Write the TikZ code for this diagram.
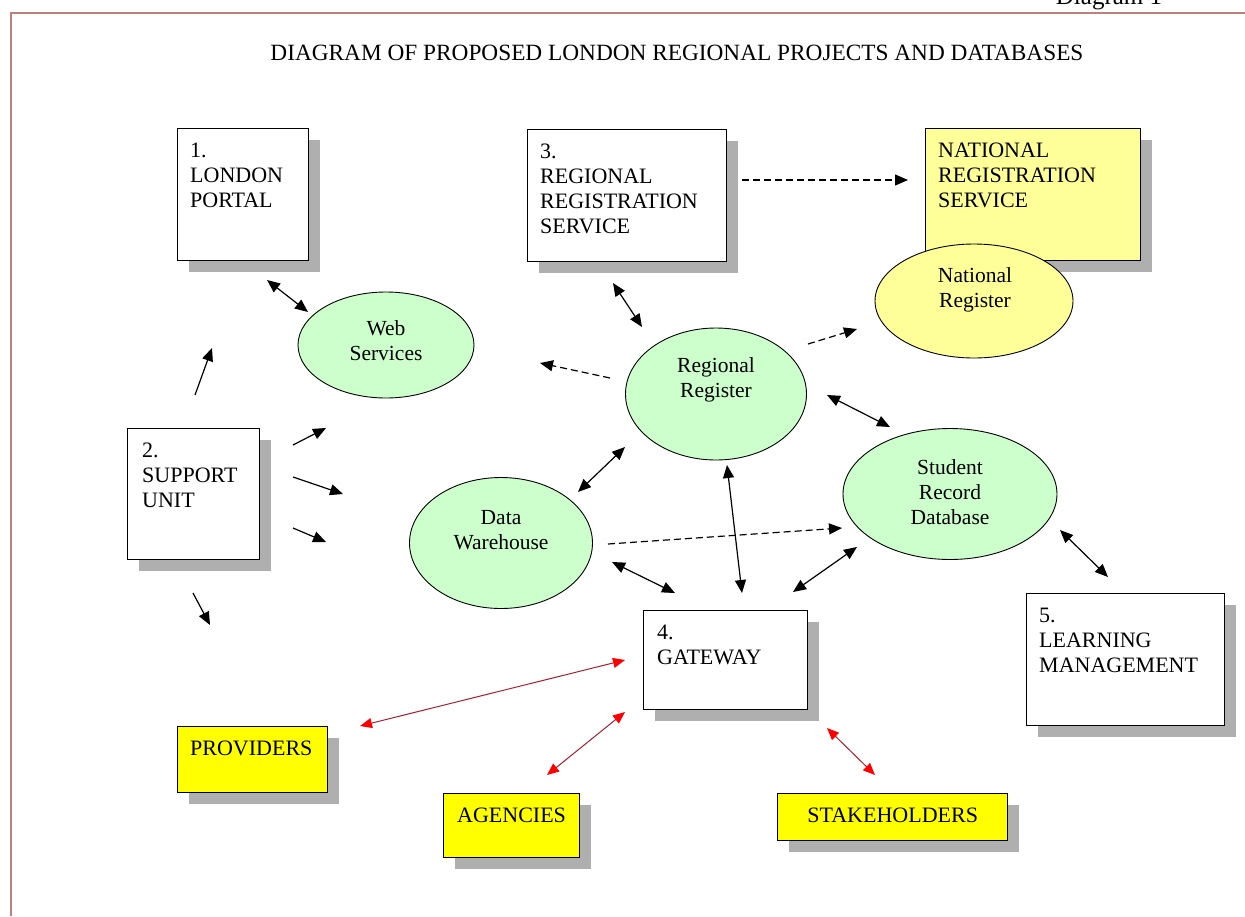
\documentclass[tikz,border=0pt]{standalone}
\usepackage{fontspec}
\setmainfont{Liberation Serif}
\usetikzlibrary{arrows.meta,shadows,shapes.geometric}
\definecolor{bordercol}{RGB}{192,128,128}
\definecolor{lgreen}{RGB}{204,255,204}
\definecolor{lyellow}{RGB}{255,255,153}
\definecolor{byellow}{RGB}{255,255,0}
\definecolor{shadowgray}{RGB}{175,175,175}
\definecolor{redline}{RGB}{170,30,50}
\begin{document}
\begin{tikzpicture}[x=1pt,y=-1pt,
  shad/.style={drop shadow={shadow xshift=11pt,shadow yshift=-11pt,fill=shadowgray,opacity=1}},
  boxnode/.style={draw=black,line width=1.4pt,fill=white,anchor=north west,inner sep=0pt,shad},
  ell/.style={ellipse,draw=black,line width=0.9pt,fill=lgreen,inner sep=0pt},
  btxt/.style={anchor=north west,align=left,inner sep=0pt,font=\fontsize{22}{25}\selectfont},
  etxt/.style={align=center,inner sep=0pt,font=\fontsize{21.5}{25}\selectfont},
  conn/.style={line width=1.2pt,black},
  biarr/.style={conn,{Triangle[length=13pt,width=11pt]}-{Triangle[length=13pt,width=11pt]}},
  onearr/.style={conn,-{Triangle[length=13pt,width=11pt]}},
  dasharr/.style={conn,dash pattern=on 7pt off 4pt,-{Triangle[length=13pt,width=11pt]}},
  redarr/.style={line width=1pt,redline,{Triangle[length=12pt,width=10pt,fill=red,color=red]}-{Triangle[length=12pt,width=10pt,fill=red,color=red]}}
]
\useasboundingbox (0,0) rectangle (1245,916);
\fill[white] (0,0) rectangle (1245,916);

% border and headings
\draw[bordercol,line width=2pt] (10.5,916) -- (10.5,12.5) -- (1245,12.5);
\node[anchor=base,inner sep=0pt,font=\fontsize{25}{30}\selectfont] (dg) at (1109,4) {Diagram 1};
\node[inner sep=0pt,font=\fontsize{23.3}{28}\selectfont] (title) at (677,53) {DIAGRAM OF PROPOSED LONDON REGIONAL PROJECTS AND DATABASES};

% boxes
\node[boxnode,minimum width=131pt,minimum height=132pt] (b1) at (177,128) {};
\node[btxt] (t1) at ([shift={(13,15)}]b1.north west) {1.\\LONDON\\PORTAL};
\node[boxnode,minimum width=199pt,minimum height=132pt] (b3) at (527,129) {};
\node[btxt] (t3) at ([shift={(13,15)}]b3.north west) {3.\\REGIONAL\\REGISTRATION\\SERVICE};
\node[boxnode,fill=lyellow,minimum width=215pt,minimum height=132pt] (bn) at (925,128) {};
\node[btxt] (tn) at ([shift={(13,15)}]bn.north west) {NATIONAL\\REGISTRATION\\SERVICE};
\node[boxnode,minimum width=132pt,minimum height=131pt] (b2) at (127,428) {};
\node[btxt] (t2) at ([shift={(15,15)}]b2.north west) {2.\\SUPPORT\\UNIT};
\node[boxnode,minimum width=164pt,minimum height=99pt] (b4) at (643,610) {};
\node[btxt] (t4) at ([shift={(14,15)}]b4.north west) {4.\\GATEWAY};
\node[boxnode,minimum width=198pt,minimum height=132pt] (b5) at (1026,593) {};
\node[btxt] (t5) at ([shift={(13,15)}]b5.north west) {5.\\LEARNING\\MANAGEMENT};
\node[boxnode,fill=byellow,minimum width=150pt,minimum height=66pt] (bp) at (177,726) {};
\node[btxt] (tp) at ([shift={(13,15)}]bp.north west) {PROVIDERS};
\node[boxnode,fill=byellow,minimum width=136pt,minimum height=64pt] (ba) at (443,793) {};
\node[btxt] (ta) at ([shift={(14,15)}]ba.north west) {AGENCIES};
\node[boxnode,fill=byellow,minimum width=230pt,minimum height=47pt] (bs) at (777,793) {};
\node[btxt,anchor=north] (ts) at ([shift={(0,15)}]bs.north) {STAKEHOLDERS};

% ellipses
\node[ell,minimum width=176pt,minimum height=106pt] (ws) at (386,345) {};
\node[etxt] (wst) at (386,341) {Web\\Services};
\node[ell,minimum width=181pt,minimum height=132pt] (rr) at (716,394) {};
\node[etxt] (rrt) at (716,380) {Regional\\Register};
\node[ell,fill=lyellow,minimum width=198pt,minimum height=114pt] (nr) at (974,301) {};
\node[etxt] (nrt) at (975,290) {National\\Register};
\node[ell,minimum width=214pt,minimum height=131pt] (srd) at (950,494) {};
\node[etxt] (srdt) at (950,492) {Student\\Record\\Database};
\node[ell,minimum width=183pt,minimum height=131pt] (dw) at (501,543) {};
\node[etxt] (dwt) at (501,530) {Data\\Warehouse};

% connector end points
\coordinate (a1s) at (267,280); \coordinate (a1e) at (308,312);
\coordinate (a2s) at (195,395); \coordinate (a2e) at (212,348);
\coordinate (a3s) at (293,445); \coordinate (a3e) at (326,428);
\coordinate (a4s) at (293,477); \coordinate (a4e) at (343,494);
\coordinate (a5s) at (293,528); \coordinate (a5e) at (326,542);
\coordinate (a6s) at (193,593); \coordinate (a6e) at (210,625);
\coordinate (a7s) at (613,283); \coordinate (a7e) at (642,327);
\coordinate (a8s) at (742,180); \coordinate (a8e) at (908,180);
\coordinate (a9s) at (808,344); \coordinate (a9e) at (857,329);
\coordinate (a10s) at (610,378); \coordinate (a10e) at (540,363);
\coordinate (a11s) at (827,395); \coordinate (a11e) at (890,427);
\coordinate (a12s) at (578,492); \coordinate (a12e) at (625,447);
\coordinate (a13s) at (608,544); \coordinate (a13e) at (842,528);
\coordinate (a14s) at (612,562); \coordinate (a14e) at (675,593);
\coordinate (a15s) at (727,465); \coordinate (a15e) at (742,593);
\coordinate (a16s) at (857,547); \coordinate (a16e) at (793,592);
\coordinate (a17s) at (1060,530); \coordinate (a17e) at (1108,577);
\coordinate (r1s) at (625,660); \coordinate (r1e) at (360,726);
\coordinate (r2s) at (625,712); \coordinate (r2e) at (547,775);
\coordinate (r3s) at (827,728); \coordinate (r3e) at (875,775);

% connectors
\draw[biarr] (a1s) -- (a1e);
\draw[onearr] (a2s) -- (a2e);
\draw[onearr] (a3s) -- (a3e);
\draw[onearr] (a4s) -- (a4e);
\draw[onearr] (a5s) -- (a5e);
\draw[onearr] (a6s) -- (a6e);
\draw[biarr] (a7s) -- (a7e);
\draw[dasharr] (a8s) -- (a8e);
\draw[dasharr] (a9s) -- (a9e);
\draw[dasharr] (a10s) -- (a10e);
\draw[biarr] (a11s) -- (a11e);
\draw[biarr] (a12s) -- (a12e);
\draw[dasharr] (a13s) -- (a13e);
\draw[biarr] (a14s) -- (a14e);
\draw[biarr] (a15s) -- (a15e);
\draw[biarr] (a16s) -- (a16e);
\draw[biarr] (a17s) -- (a17e);
\draw[redarr] (r1s) -- (r1e);
\draw[redarr] (r2s) -- (r2e);
\draw[redarr] (r3s) -- (r3e);
\end{tikzpicture}
\end{document}
